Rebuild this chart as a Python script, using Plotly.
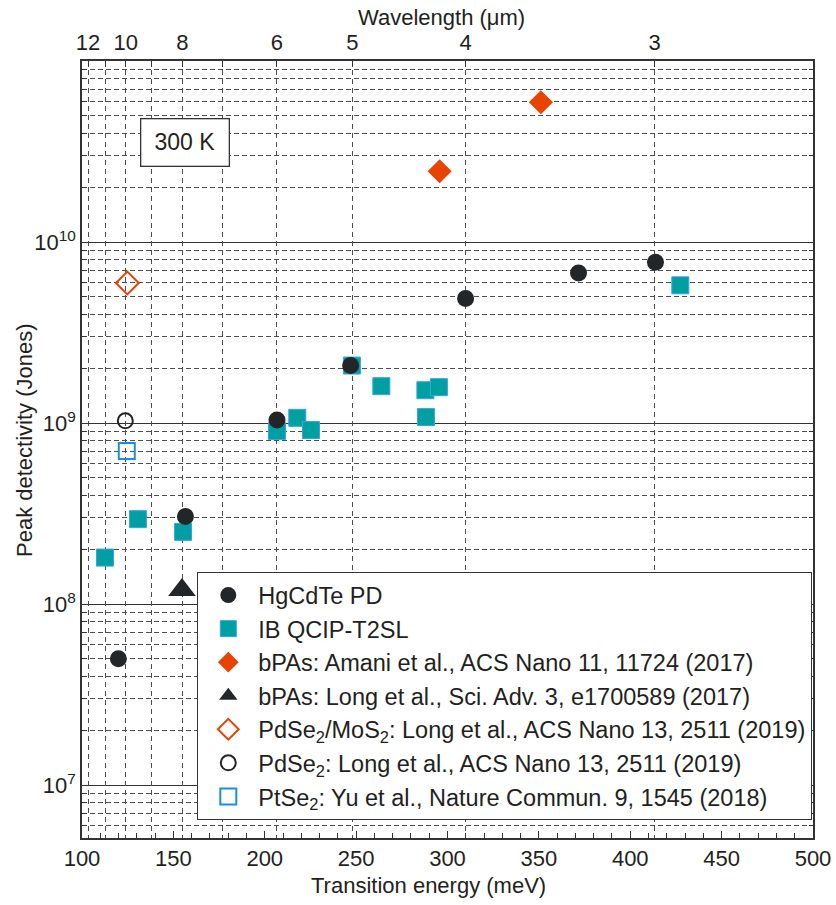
import plotly.graph_objects as go

# Photon energy <-> wavelength conversion constant (meV * um)
HC = 1239.84

# HgCdTe photodiodes
hgcdte_energy = [119.9, 156.6, 206.7, 247.0, 309.9, 371.7, 413.8]
hgcdte_det = [5.0e7, 3.05e8, 1.04e9, 2.08e9, 4.88e9, 6.75e9, 7.73e9]

# IB QCIP-T2SL
qcip_energy = [112.6, 130.6, 155.3, 206.7, 217.8, 225.3, 247.7, 263.8, 287.9, 288.2, 295.3, 427.4]
qcip_det = [1.81e8, 2.95e8, 2.51e8, 9.06e8, 1.07e9, 9.16e8, 2.08e9, 1.60e9, 1.52e9, 1.08e9, 1.58e9, 5.77e9]

# bPAs (Amani et al.)
amani_energy = [295.7, 351.1]
amani_det = [2.46e10, 5.92e10]

# bPAs (Long et al., Sci. Adv.)
long_bp_energy = [154.7]
long_bp_det = [1.2e8]

# PdSe2/MoS2
pdse2_mos2_energy = [124.8]
pdse2_mos2_det = [5.94e9]

# PdSe2
pdse2_energy = [123.7]
pdse2_det = [1.03e9]

# PtSe2
ptse2_energy = [124.5]
ptse2_det = [7.02e8]

# Top axis: wavelength grid (um) and its labels
wavelengths = [12, 11, 10, 9, 8, 7, 6, 5, 4, 3]
wavelength_labels = ["12", "", "10", "", "8", "", "6", "5", "4", "3"]

# Bottom axis ticks
energy_ticks = [100, 150, 200, 250, 300, 350, 400, 450, 500]

# Detectivity decades and minor lines
decades = [1e7, 1e8, 1e9, 1e10]
decade_labels = ["10<sup>7</sup>", "10<sup>8</sup>", "10<sup>9</sup>", "10<sup>10</sup>"]
minor_vals = [m * 10 ** k for k in range(6, 11) for m in range(2, 10)]

FONT = "Liberation Sans, Arial, Helvetica, sans-serif"
INK = "#231f20"
DARK = "#232628"
TEAL = "#00a0a2"
TEAL_EDGE = "#35a3e6"
ORANGE = "#e84300"
BLUE = "#1a8fe0"
GRID = "#4d4d4d"

fig = go.Figure()

fig.add_trace(go.Scatter(
    x=qcip_energy, y=qcip_det, mode="markers", name="IB QCIP-T2SL",
    marker=dict(symbol="square", size=17, color=TEAL, line=dict(color=TEAL_EDGE, width=1)),
    legendrank=2,
))
fig.add_trace(go.Scatter(
    x=hgcdte_energy, y=hgcdte_det, mode="markers", name="HgCdTe PD",
    marker=dict(symbol="circle", size=17, color=DARK, line=dict(width=0)),
    legendrank=1,
))
fig.add_trace(go.Scatter(
    x=amani_energy, y=amani_det, mode="markers",
    name="bPAs: Amani et al., ACS Nano 11, 11724 (2017)",
    marker=dict(symbol="diamond", size=18.5, color=ORANGE, line=dict(width=0)),
    legendrank=3,
))
fig.add_trace(go.Scatter(
    x=long_bp_energy, y=long_bp_det, mode="markers",
    name="bPAs: Long et al., Sci. Adv. 3, e1700589 (2017)",
    marker=dict(symbol="triangle-up", size=24, color=DARK, line=dict(width=0)),
    legendrank=4,
))
fig.add_trace(go.Scatter(
    x=pdse2_mos2_energy, y=pdse2_mos2_det, mode="markers",
    name="PdSe<sub>2</sub>/MoS<sub>2</sub>: Long et al., ACS Nano 13, 2511 (2019)",
    marker=dict(symbol="diamond-open", size=17.5, color=ORANGE, line=dict(color=ORANGE, width=2)),
    legendrank=5,
))
fig.add_trace(go.Scatter(
    x=pdse2_energy, y=pdse2_det, mode="markers",
    name="PdSe<sub>2</sub>: Long et al., ACS Nano 13, 2511 (2019)",
    marker=dict(symbol="circle-open", size=15, color=DARK, line=dict(color=DARK, width=2)),
    legendrank=6,
))
fig.add_trace(go.Scatter(
    x=ptse2_energy, y=ptse2_det, mode="markers",
    name="PtSe<sub>2</sub>: Yu et al., Nature Commun. 9, 1545 (2018)",
    marker=dict(symbol="square-open", size=16, color=BLUE, line=dict(color=BLUE, width=2)),
    legendrank=7,
    xaxis="x2",
))

# plot area in pixels: x 82..813, y 61..838
L, R, T, B = 82, 23, 61, 67
W, H = 836, 905
PW, PH = W - L - R, H - T - B


def px(x):
    return (x - L) / PW


def py(y):
    return (H - B - y) / PH


fig.update_layout(
    width=W, height=H,
    margin=dict(l=L, r=R, t=T, b=B, autoexpand=False),
    paper_bgcolor="white", plot_bgcolor="white",
    font=dict(family=FONT, size=22, color=INK),
    showlegend=True,
    legend=dict(
        x=px(197), y=py(572), xanchor="left", yanchor="top",
        bgcolor="white", bordercolor="#333333", borderwidth=1.3,
        font=dict(family=FONT, size=23.5, color=INK),
        itemwidth=50,
    ),
    xaxis=dict(
        range=[100, 500], tickmode="array", tickvals=energy_ticks,
        ticks="inside", ticklen=7, tickcolor="#333333",
        minor=dict(dtick=10, ticks="inside", ticklen=5, tickcolor="#333333", showgrid=False),
        showgrid=False, zeroline=False, automargin=False,
        showline=True, linecolor="#333333", linewidth=1.5,
        tickfont=dict(size=22, color=INK),
    ),
    xaxis2=dict(
        overlaying="x", side="top", range=[100, 500], automargin=False,
        tickmode="array", tickvals=[HC / w for w in wavelengths], ticktext=wavelength_labels,
        ticks="inside", ticklen=6, tickcolor="#333333",
        showgrid=True, gridcolor=GRID, gridwidth=1, griddash="5px,4px",
        zeroline=False, showline=True, linecolor="#333333", linewidth=1.5,
        tickfont=dict(size=22, color=INK),
    ),
    yaxis=dict(
        type="log", range=[6.709, 11], automargin=False,
        tickmode="array", tickvals=decades, ticktext=decade_labels,
        ticks="inside", ticklen=7, tickcolor="#333333",
        showgrid=True, gridcolor="#333333", gridwidth=1.3,
        minor=dict(tickmode="array", tickvals=minor_vals, ticks="inside", ticklen=4,
                   tickcolor="#333333", showgrid=True, gridcolor=GRID, gridwidth=1,
                   griddash="5px,3px"),
        zeroline=False, showline=True, linecolor="#333333", linewidth=1.5,
        mirror="ticks",
        tickfont=dict(size=22, color=INK),
    ),
    annotations=[
        dict(text="300 K", xref="paper", yref="paper", x=px(184.7), y=py(142),
             xanchor="center", yanchor="middle", showarrow=False,
             font=dict(size=23, color=INK), bgcolor="white",
             bordercolor="#333333", borderwidth=1.3, borderpad=1, width=85, height=44),
        dict(text="Wavelength (\u03bcm)", xref="paper", yref="paper", x=px(441), y=py(18),
             xanchor="center", yanchor="middle", showarrow=False, font=dict(size=22, color=INK)),
        dict(text="Transition energy (meV)", xref="paper", yref="paper", x=px(428), y=py(885),
             xanchor="center", yanchor="middle", showarrow=False, font=dict(size=22, color=INK)),
        dict(text="Peak detectivity (Jones)", xref="paper", yref="paper", x=px(25), y=py(440),
             xanchor="center", yanchor="middle", showarrow=False, textangle=-90,
             font=dict(size=22, color=INK)),
    ],
)

fig.write_html("out.html")
